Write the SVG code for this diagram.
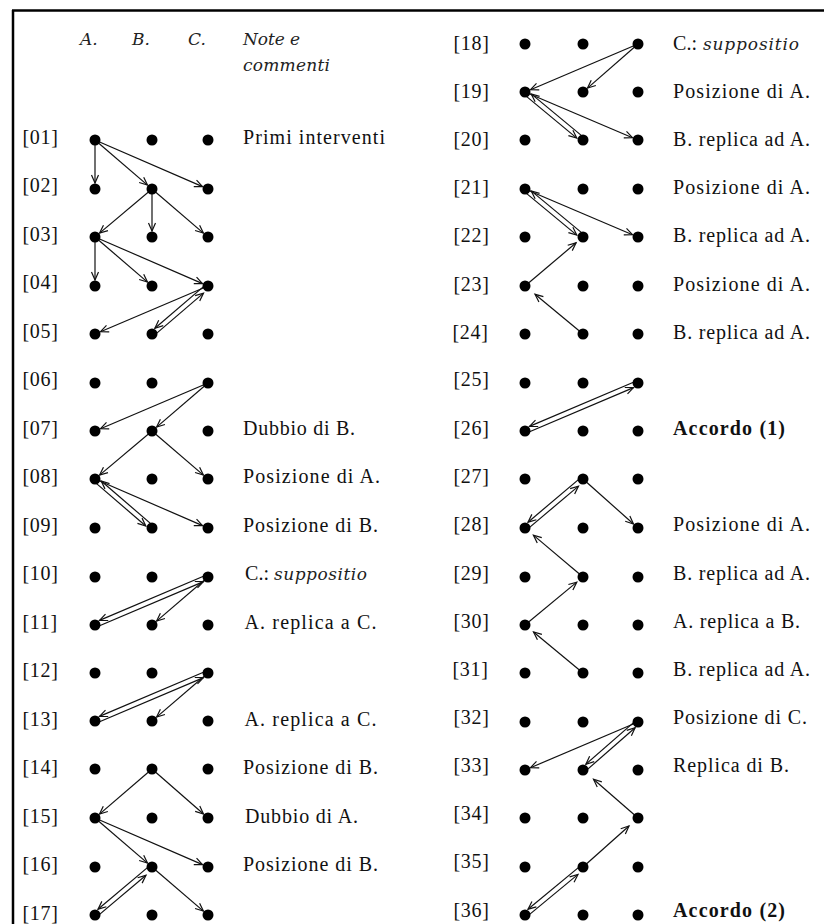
<svg xmlns="http://www.w3.org/2000/svg" width="824" height="924" viewBox="0 0 824 924">
<style>
.bg{fill:#fff}
.frame{stroke:#000;stroke-width:2.5;fill:none}
.d{fill:#000}
.lb{font-family:"Liberation Serif","Times New Roman",serif;font-size:20px;fill:#111;letter-spacing:0.7px}
.nt{font-family:"Liberation Serif","Times New Roman",serif;font-size:20px;fill:#111}
.b{font-weight:bold}
.hd{font-family:"DejaVu Serif",serif;font-style:italic;font-size:17px;fill:#222}
.c{stroke:#111;stroke-width:1.2;fill:none;marker-end:url(#ah)}
</style>
<defs>
<marker id="ah" markerUnits="userSpaceOnUse" markerWidth="12" markerHeight="12" viewBox="-10 -6 12 12" refX="0" refY="0" orient="auto" overflow="visible">
<path d="M-8,-3.5 L0,0 L-8,3.5" fill="none" stroke="#111" stroke-width="1.2"/>
</marker>
</defs>
<rect class="bg" x="0" y="0" width="824" height="924"/>
<g id="frame">
<line class="frame" x1="12" y1="10.5" x2="824" y2="10.5"/>
<line class="frame" x1="13" y1="10" x2="13" y2="924"/>
</g>
<g id="header">
<text class="hd" x="80" y="45">A.</text>
<text class="hd" x="132" y="45">B.</text>
<text class="hd" x="188" y="45">C.</text>
<text class="hd" x="243" y="45" textLength="57" lengthAdjust="spacing">Note e</text>
<text class="hd" x="243" y="71" textLength="87" lengthAdjust="spacing">commenti</text>
</g>
<g id="connectors">
<line class="c" x1="95" y1="140" x2="95" y2="183"/>
<line class="c" x1="95" y1="140" x2="147.5" y2="185.1"/>
<line class="c" x1="95" y1="140" x2="202.5" y2="186.6"/>
<line class="c" x1="152" y1="189" x2="99.6" y2="233.1"/>
<line class="c" x1="152" y1="189" x2="152" y2="231"/>
<line class="c" x1="152" y1="189" x2="203.4" y2="233.1"/>
<line class="c" x1="95" y1="237" x2="95" y2="280"/>
<line class="c" x1="95" y1="237" x2="147.5" y2="282.1"/>
<line class="c" x1="95" y1="237" x2="202.5" y2="283.6"/>
<line class="c" x1="208" y1="286" x2="100.5" y2="331.7"/>
<line class="c" x1="153.6" y1="335.9" x2="203.5" y2="293.1"/>
<line class="c" x1="206.4" y1="284.1" x2="154.9" y2="328.2"/>
<line class="c" x1="208" y1="383" x2="100.5" y2="428.7"/>
<line class="c" x1="208" y1="383" x2="156.6" y2="427.1"/>
<line class="c" x1="152" y1="431" x2="99.6" y2="475.1"/>
<line class="c" x1="152" y1="431" x2="203.4" y2="475.1"/>
<line class="c" x1="93.4" y1="480.9" x2="145.8" y2="526"/>
<line class="c" x1="153.6" y1="526.1" x2="101.2" y2="481"/>
<line class="c" x1="95" y1="479" x2="202.5" y2="525.6"/>
<line class="c" x1="96" y1="627.3" x2="203.5" y2="581.6"/>
<line class="c" x1="207" y1="574.7" x2="99.5" y2="620.4"/>
<line class="c" x1="208" y1="577" x2="156.6" y2="621.1"/>
<line class="c" x1="96" y1="723.3" x2="203.5" y2="677.6"/>
<line class="c" x1="207" y1="670.7" x2="99.5" y2="716.4"/>
<line class="c" x1="208" y1="673" x2="156.6" y2="717.1"/>
<line class="c" x1="152" y1="769" x2="99.5" y2="814.1"/>
<line class="c" x1="152" y1="769" x2="203.5" y2="814"/>
<line class="c" x1="95" y1="818" x2="147.5" y2="863.1"/>
<line class="c" x1="95" y1="818" x2="202.5" y2="864.6"/>
<line class="c" x1="152" y1="867" x2="203.4" y2="911.1"/>
<line class="c" x1="96.6" y1="916.9" x2="146" y2="875.3"/>
<line class="c" x1="150.4" y1="865.1" x2="98" y2="909.2"/>
<line class="c" x1="638" y1="44" x2="530.5" y2="89.7"/>
<line class="c" x1="638" y1="44" x2="587.5" y2="88.1"/>
<line class="c" x1="523.4" y1="93.9" x2="576.8" y2="138.1"/>
<line class="c" x1="584.6" y1="138.1" x2="531.2" y2="93.9"/>
<line class="c" x1="525" y1="92" x2="632.5" y2="137.7"/>
<line class="c" x1="523.4" y1="190.9" x2="576.8" y2="235.1"/>
<line class="c" x1="584.6" y1="235.1" x2="531.2" y2="190.9"/>
<line class="c" x1="525" y1="189" x2="632.5" y2="234.7"/>
<line class="c" x1="525" y1="286" x2="576.1" y2="242.8"/>
<line class="c" x1="583" y1="334" x2="535" y2="294.3"/>
<line class="c" x1="526" y1="433.3" x2="633.5" y2="387.6"/>
<line class="c" x1="637" y1="380.7" x2="529.5" y2="426.4"/>
<line class="c" x1="526.6" y1="529.9" x2="578.5" y2="486.1"/>
<line class="c" x1="581.4" y1="477.1" x2="528" y2="522.2"/>
<line class="c" x1="583" y1="479" x2="633.5" y2="524"/>
<line class="c" x1="583" y1="577" x2="533.4" y2="535.1"/>
<line class="c" x1="525" y1="625" x2="576.8" y2="582.1"/>
<line class="c" x1="583" y1="673" x2="533.5" y2="632"/>
<line class="c" x1="638" y1="722" x2="530.5" y2="767.7"/>
<line class="c" x1="584.6" y1="771.9" x2="635.1" y2="727.8"/>
<line class="c" x1="636.4" y1="720.1" x2="585.9" y2="764.2"/>
<line class="c" x1="638" y1="818" x2="593.5" y2="779.2"/>
<line class="c" x1="583" y1="867" x2="629" y2="826"/>
<line class="c" x1="526.6" y1="916.9" x2="578" y2="874.4"/>
<line class="c" x1="581.4" y1="865.1" x2="528" y2="909.2"/>
</g>
<g id="row01"><text class="lb" x="22.5" y="143.5">[01]</text><circle class="d" cx="95" cy="140" r="5.5"/><circle class="d" cx="152" cy="140" r="5.5"/><circle class="d" cx="208" cy="140" r="5.5"/><text class="nt" x="243" y="143.5" textLength="142" lengthAdjust="spacing">Primi interventi</text></g>
<g id="row02"><text class="lb" x="22.5" y="192">[02]</text><circle class="d" cx="95" cy="189" r="5.5"/><circle class="d" cx="152" cy="189" r="5.5"/><circle class="d" cx="208" cy="189" r="5.5"/></g>
<g id="row03"><text class="lb" x="22.5" y="240.5">[03]</text><circle class="d" cx="95" cy="237" r="5.5"/><circle class="d" cx="152" cy="237" r="5.5"/><circle class="d" cx="208" cy="237" r="5.5"/></g>
<g id="row04"><text class="lb" x="22.5" y="289">[04]</text><circle class="d" cx="95" cy="286" r="5.5"/><circle class="d" cx="152" cy="286" r="5.5"/><circle class="d" cx="208" cy="286" r="5.5"/></g>
<g id="row05"><text class="lb" x="22.5" y="337.5">[05]</text><circle class="d" cx="95" cy="334" r="5.5"/><circle class="d" cx="152" cy="334" r="5.5"/><circle class="d" cx="208" cy="334" r="5.5"/></g>
<g id="row06"><text class="lb" x="22.5" y="386">[06]</text><circle class="d" cx="95" cy="383" r="5.5"/><circle class="d" cx="152" cy="383" r="5.5"/><circle class="d" cx="208" cy="383" r="5.5"/></g>
<g id="row07"><text class="lb" x="22.5" y="434.5">[07]</text><circle class="d" cx="95" cy="431" r="5.5"/><circle class="d" cx="152" cy="431" r="5.5"/><circle class="d" cx="208" cy="431" r="5.5"/><text class="nt" x="243" y="434.5" textLength="112" lengthAdjust="spacing">Dubbio di B.</text></g>
<g id="row08"><text class="lb" x="22.5" y="483">[08]</text><circle class="d" cx="95" cy="479" r="5.5"/><circle class="d" cx="152" cy="479" r="5.5"/><circle class="d" cx="208" cy="479" r="5.5"/><text class="nt" x="243" y="483" textLength="137" lengthAdjust="spacing">Posizione di A.</text></g>
<g id="row09"><text class="lb" x="22.5" y="531.5">[09]</text><circle class="d" cx="95" cy="528" r="5.5"/><circle class="d" cx="152" cy="528" r="5.5"/><circle class="d" cx="208" cy="528" r="5.5"/><text class="nt" x="243" y="531.5" textLength="135" lengthAdjust="spacing">Posizione di B.</text></g>
<g id="row10"><text class="lb" x="22.5" y="580">[10]</text><circle class="d" cx="95" cy="577" r="5.5"/><circle class="d" cx="152" cy="577" r="5.5"/><circle class="d" cx="208" cy="577" r="5.5"/><text class="nt" x="245" y="580" textLength="24" lengthAdjust="spacing">C.:</text><text class="hd" x="274" y="580" textLength="93" lengthAdjust="spacing">suppositio</text></g>
<g id="row11"><text class="lb" x="22.5" y="628.5">[11]</text><circle class="d" cx="95" cy="625" r="5.5"/><circle class="d" cx="152" cy="625" r="5.5"/><circle class="d" cx="208" cy="625" r="5.5"/><text class="nt" x="244.5" y="628.5" textLength="132" lengthAdjust="spacing">A. replica a C.</text></g>
<g id="row12"><text class="lb" x="22.5" y="677">[12]</text><circle class="d" cx="95" cy="673" r="5.5"/><circle class="d" cx="152" cy="673" r="5.5"/><circle class="d" cx="208" cy="673" r="5.5"/></g>
<g id="row13"><text class="lb" x="22.5" y="725.5">[13]</text><circle class="d" cx="95" cy="721" r="5.5"/><circle class="d" cx="152" cy="721" r="5.5"/><circle class="d" cx="208" cy="721" r="5.5"/><text class="nt" x="244.5" y="725.5" textLength="132" lengthAdjust="spacing">A. replica a C.</text></g>
<g id="row14"><text class="lb" x="22.5" y="774">[14]</text><circle class="d" cx="95" cy="769" r="5.5"/><circle class="d" cx="152" cy="769" r="5.5"/><circle class="d" cx="208" cy="769" r="5.5"/><text class="nt" x="243" y="774" textLength="135" lengthAdjust="spacing">Posizione di B.</text></g>
<g id="row15"><text class="lb" x="22.5" y="822.5">[15]</text><circle class="d" cx="95" cy="818" r="5.5"/><circle class="d" cx="152" cy="818" r="5.5"/><circle class="d" cx="208" cy="818" r="5.5"/><text class="nt" x="245" y="822.5" textLength="113" lengthAdjust="spacing">Dubbio di A.</text></g>
<g id="row16"><text class="lb" x="22.5" y="871">[16]</text><circle class="d" cx="95" cy="867" r="5.5"/><circle class="d" cx="152" cy="867" r="5.5"/><circle class="d" cx="208" cy="867" r="5.5"/><text class="nt" x="243" y="871" textLength="135" lengthAdjust="spacing">Posizione di B.</text></g>
<g id="row17"><text class="lb" x="22.5" y="919.5">[17]</text><circle class="d" cx="95" cy="915" r="5.5"/><circle class="d" cx="152" cy="915" r="5.5"/><circle class="d" cx="208" cy="915" r="5.5"/></g>
<g id="row18"><text class="lb" x="453.5" y="49.5">[18]</text><circle class="d" cx="525" cy="44" r="5.5"/><circle class="d" cx="583" cy="44" r="5.5"/><circle class="d" cx="638" cy="44" r="5.5"/><text class="nt" x="673" y="49.5" textLength="24" lengthAdjust="spacing">C.:</text><text class="hd" x="703" y="49.5" textLength="96" lengthAdjust="spacing">suppositio</text></g>
<g id="row19"><text class="lb" x="453.5" y="98">[19]</text><circle class="d" cx="525" cy="92" r="5.5"/><circle class="d" cx="583" cy="92" r="5.5"/><circle class="d" cx="638" cy="92" r="5.5"/><text class="nt" x="673" y="98" textLength="137" lengthAdjust="spacing">Posizione di A.</text></g>
<g id="row20"><text class="lb" x="453.5" y="146">[20]</text><circle class="d" cx="525" cy="140" r="5.5"/><circle class="d" cx="583" cy="140" r="5.5"/><circle class="d" cx="638" cy="140" r="5.5"/><text class="nt" x="673" y="146" textLength="137" lengthAdjust="spacing">B. replica ad A.</text></g>
<g id="row21"><text class="lb" x="453.5" y="194">[21]</text><circle class="d" cx="525" cy="189" r="5.5"/><circle class="d" cx="583" cy="189" r="5.5"/><circle class="d" cx="638" cy="189" r="5.5"/><text class="nt" x="673" y="194" textLength="137" lengthAdjust="spacing">Posizione di A.</text></g>
<g id="row22"><text class="lb" x="453.5" y="242">[22]</text><circle class="d" cx="525" cy="237" r="5.5"/><circle class="d" cx="583" cy="237" r="5.5"/><circle class="d" cx="638" cy="237" r="5.5"/><text class="nt" x="673" y="242" textLength="137" lengthAdjust="spacing">B. replica ad A.</text></g>
<g id="row23"><text class="lb" x="453.5" y="290.5">[23]</text><circle class="d" cx="525" cy="286" r="5.5"/><circle class="d" cx="583" cy="286" r="5.5"/><circle class="d" cx="638" cy="286" r="5.5"/><text class="nt" x="673" y="290.5" textLength="137" lengthAdjust="spacing">Posizione di A.</text></g>
<g id="row24"><text class="lb" x="452.5" y="338.5">[24]</text><circle class="d" cx="525" cy="334" r="5.5"/><circle class="d" cx="583" cy="334" r="5.5"/><circle class="d" cx="638" cy="334" r="5.5"/><text class="nt" x="673" y="338.5" textLength="137" lengthAdjust="spacing">B. replica ad A.</text></g>
<g id="row25"><text class="lb" x="453.5" y="385.5">[25]</text><circle class="d" cx="525" cy="383" r="5.5"/><circle class="d" cx="583" cy="383" r="5.5"/><circle class="d" cx="638" cy="383" r="5.5"/></g>
<g id="row26"><text class="lb" x="453.5" y="434.5">[26]</text><circle class="d" cx="525" cy="431" r="5.5"/><circle class="d" cx="583" cy="431" r="5.5"/><circle class="d" cx="638" cy="431" r="5.5"/><text class="nt b" x="673" y="434.5" textLength="112" lengthAdjust="spacing">Accordo (1)</text></g>
<g id="row27"><text class="lb" x="453.5" y="483">[27]</text><circle class="d" cx="525" cy="479" r="5.5"/><circle class="d" cx="583" cy="479" r="5.5"/><circle class="d" cx="638" cy="479" r="5.5"/></g>
<g id="row28"><text class="lb" x="453.5" y="531">[28]</text><circle class="d" cx="525" cy="528" r="5.5"/><circle class="d" cx="583" cy="528" r="5.5"/><circle class="d" cx="638" cy="528" r="5.5"/><text class="nt" x="673" y="531" textLength="137" lengthAdjust="spacing">Posizione di A.</text></g>
<g id="row29"><text class="lb" x="453.5" y="579.5">[29]</text><circle class="d" cx="525" cy="577" r="5.5"/><circle class="d" cx="583" cy="577" r="5.5"/><circle class="d" cx="638" cy="577" r="5.5"/><text class="nt" x="673" y="579.5" textLength="137" lengthAdjust="spacing">B. replica ad A.</text></g>
<g id="row30"><text class="lb" x="453.5" y="627.5">[30]</text><circle class="d" cx="525" cy="625" r="5.5"/><circle class="d" cx="583" cy="625" r="5.5"/><circle class="d" cx="638" cy="625" r="5.5"/><text class="nt" x="673" y="627.5" textLength="127" lengthAdjust="spacing">A. replica a B.</text></g>
<g id="row31"><text class="lb" x="452.5" y="675.5">[31]</text><circle class="d" cx="525" cy="673" r="5.5"/><circle class="d" cx="583" cy="673" r="5.5"/><circle class="d" cx="638" cy="673" r="5.5"/><text class="nt" x="673" y="675.5" textLength="137" lengthAdjust="spacing">B. replica ad A.</text></g>
<g id="row32"><text class="lb" x="453.5" y="724">[32]</text><circle class="d" cx="525" cy="722" r="5.5"/><circle class="d" cx="583" cy="722" r="5.5"/><circle class="d" cx="638" cy="722" r="5.5"/><text class="nt" x="673" y="724" textLength="134" lengthAdjust="spacing">Posizione di C.</text></g>
<g id="row33"><text class="lb" x="453.5" y="772">[33]</text><circle class="d" cx="525" cy="770" r="5.5"/><circle class="d" cx="583" cy="770" r="5.5"/><circle class="d" cx="638" cy="770" r="5.5"/><text class="nt" x="673" y="772" textLength="116" lengthAdjust="spacing">Replica di B.</text></g>
<g id="row34"><text class="lb" x="453.5" y="820">[34]</text><circle class="d" cx="525" cy="818" r="5.5"/><circle class="d" cx="583" cy="818" r="5.5"/><circle class="d" cx="638" cy="818" r="5.5"/></g>
<g id="row35"><text class="lb" x="453.5" y="868">[35]</text><circle class="d" cx="525" cy="867" r="5.5"/><circle class="d" cx="583" cy="867" r="5.5"/><circle class="d" cx="638" cy="867" r="5.5"/></g>
<g id="row36"><text class="lb" x="453.5" y="916.5">[36]</text><circle class="d" cx="525" cy="915" r="5.5"/><circle class="d" cx="583" cy="915" r="5.5"/><circle class="d" cx="638" cy="915" r="5.5"/><text class="nt b" x="673" y="916.5" textLength="112" lengthAdjust="spacing">Accordo (2)</text></g>
</svg>
